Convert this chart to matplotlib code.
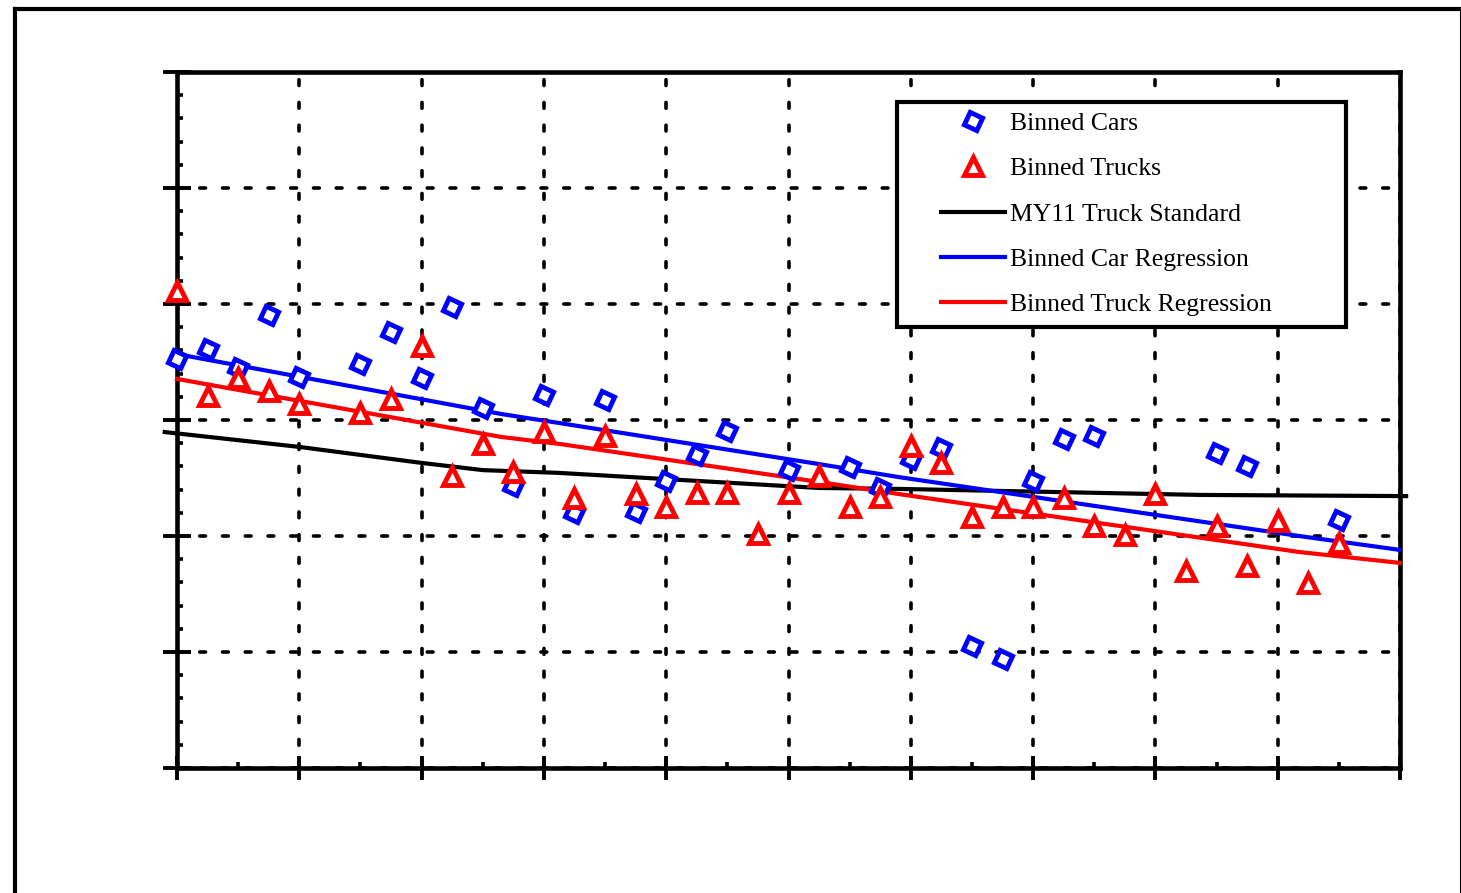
import matplotlib
matplotlib.use('Agg')
import matplotlib.pyplot as plt
from matplotlib.lines import Line2D
from matplotlib.patches import Rectangle
from matplotlib.ticker import MultipleLocator

plt.rcParams['font.family'] = ['Liberation Serif', 'DejaVu Serif']

# binned cars (footprint, mpg)
car_x = [40, 41, 42, 43, 44, 46, 47, 48, 49, 50, 51, 52, 53, 54, 55, 56,
         57, 58, 60, 62, 63, 64, 65, 66, 67, 68, 69, 70, 74, 75, 78]
car_y = [27.63, 28.06, 27.24, 29.53, 26.85, 27.41, 28.79, 26.81, 29.87, 25.52,
         22.16, 26.08, 20.99, 25.86, 21.03, 22.37, 23.49, 24.53, 22.84, 22.97,
         22.07, 23.32, 23.79, 15.26, 14.70, 22.37, 24.18, 24.31, 23.58, 23.02,
         20.69]

# binned trucks
truck_x = [40, 41, 42, 43, 44, 46, 47, 48, 49, 50, 51, 52, 53, 54, 55, 56,
           57, 58, 59, 60, 61, 62, 63, 64, 65, 66, 67, 68, 69, 70, 71, 72,
           73, 74, 75, 76, 77, 78]
truck_y = [30.56, 26.03, 26.81, 26.25, 25.69, 25.30, 25.91, 28.19, 22.59, 23.97,
           22.76, 24.48, 21.64, 24.31, 21.81, 21.25, 21.85, 21.85, 20.09, 21.85,
           22.59, 21.25, 21.68, 23.88, 23.15, 20.82, 21.25, 21.25, 21.64, 20.43,
           20.04, 21.81, 18.49, 20.43, 18.71, 20.65, 17.97, 19.70]

# MY11 truck standard curve
std_x = [39.6, 44, 48, 50, 52.5, 61, 63.6, 73.5, 80.2]
std_y = [24.48, 23.84, 23.15, 22.84, 22.72, 22.07, 22.03, 21.77, 21.72]

# regression curves
carreg_x = [40, 50.6, 52.5, 61, 63.6, 76.7, 80]
carreg_y = [27.84, 25.26, 24.87, 23.10, 22.54, 20.00, 19.40]
trkreg_x = [40, 50.6, 52.5, 61, 63.6, 76.7, 80]
trkreg_y = [26.77, 24.27, 23.97, 22.33, 21.81, 19.31, 18.84]

W, H = 1461, 893
fig = plt.figure(figsize=(W / 100, H / 100), dpi=100)
ax = fig.add_axes([177 / W, 1 - 768 / H, (1400 - 177) / W, (768 - 72) / H])

# outer frame of the page
fig.add_artist(Line2D([15 / W, 15 / W], [-0.01, 1 - 9 / H], color='black', lw=3,
                      transform=fig.transFigure, solid_capstyle='projecting'))
fig.add_artist(Line2D([15 / W, 1460 / W], [1 - 9 / H, 1 - 9 / H], color='black', lw=3,
                      transform=fig.transFigure, solid_capstyle='projecting'))
fig.add_artist(Line2D([1460 / W, 1460 / W], [-0.01, 1 - 9 / H], color='black', lw=0.8,
                      transform=fig.transFigure))

ax.plot(car_x, car_y, linestyle='none', marker=(4, 0, 20), markersize=14,
        markerfacecolor='white', markeredgecolor='#0000ff', markeredgewidth=3.5,
        label='Binned Cars', zorder=4, clip_on=False)
ax.plot(truck_x, truck_y, linestyle='none', marker='^', markersize=13,
        markerfacecolor='white', markeredgecolor='#ff0000', markeredgewidth=3.5,
        label='Binned Trucks', zorder=4, clip_on=False)
ax.plot(std_x, std_y, color='black', lw=3, label='MY11 Truck Standard',
        zorder=3, clip_on=False)
ax.plot(carreg_x, carreg_y, color='#0000ff', lw=3, label='Binned Car Regression',
        zorder=3, clip_on=False)
ax.plot(trkreg_x, trkreg_y, color='#ff0000', lw=3, label='Binned Truck Regression',
        zorder=3, clip_on=False)

ax.set_xlim(40, 80)
ax.set_ylim(10, 40)
ax.xaxis.set_major_locator(MultipleLocator(4))
ax.xaxis.set_minor_locator(MultipleLocator(2))
ax.yaxis.set_major_locator(MultipleLocator(5))
ax.yaxis.set_minor_locator(MultipleLocator(1))

ax.grid(True, which='major', color='black', lw=2.6,
        linestyle=(0, (1.6, 4.7)), dash_capstyle='round')
ax.set_axisbelow(True)

for s in ax.spines.values():
    s.set_linewidth(3.3)
ax.tick_params(axis='both', which='both', labelleft=False, labelbottom=False,
               left=True, bottom=True, right=False, top=False)
ax.tick_params(axis='y', which='major', direction='inout', length=20, width=2.8)
ax.tick_params(axis='x', which='major', direction='inout', length=17, width=2.8)
ax.tick_params(axis='both', which='minor', direction='in', length=4.5, width=2.6)

# legend box
ax.add_patch(Rectangle((897 / W, 1 - 327 / H), (1346 - 897) / W, (327 - 102) / H,
                       transform=fig.transFigure, facecolor='white',
                       edgecolor='black', lw=3, zorder=5, clip_on=False))
leg = ax.legend(loc='upper left', bbox_to_anchor=(941 / W, 1 - 112 / H),
                bbox_transform=fig.transFigure, frameon=False, fontsize=18.5,
                borderpad=0, borderaxespad=0, handlelength=2.5,
                handletextpad=0.2, labelspacing=0.87, numpoints=1)
leg.set_zorder(6)

fig.savefig('out.png', dpi=100)
